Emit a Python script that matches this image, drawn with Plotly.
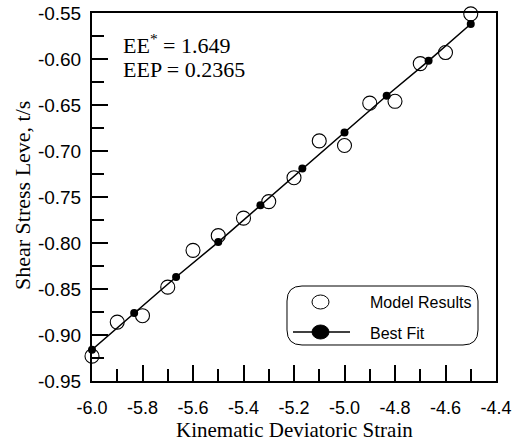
import plotly.graph_objects as go

# Model results (open circles)
model_x = [-6.0, -5.9, -5.8, -5.7, -5.6, -5.5, -5.4, -5.3,
           -5.2, -5.1, -5.0, -4.9, -4.8, -4.7, -4.6, -4.5]
model_y = [-0.923, -0.886, -0.879, -0.848, -0.808, -0.792, -0.773, -0.755,
           -0.729, -0.689, -0.694, -0.648, -0.646, -0.605, -0.593, -0.551]

# Best-fit line (filled markers)
fit_x = [-6.0, -5.833, -5.667, -5.5, -5.333, -5.167, -5.0, -4.833, -4.667, -4.5]
fit_y = [-0.916, -0.876, -0.837, -0.799, -0.759, -0.719, -0.680, -0.640, -0.602, -0.562]

# Axis ticks
x_tick_vals = [-6.0, -5.8, -5.6, -5.4, -5.2, -5.0, -4.8, -4.6, -4.4]
x_tick_text = ["-6.0", "-5.8", "-5.6", "-5.4", "-5.2", "-5.0", "-4.8", "-4.6", "-4.4"]
x_minor_vals = [-5.9, -5.7, -5.5, -5.3, -5.1, -4.9, -4.7, -4.5]
y_tick_vals = [-0.95, -0.90, -0.85, -0.80, -0.75, -0.70, -0.65, -0.60, -0.55]
y_tick_text = ["-0.95", "-0.90", "-0.85", "-0.80", "-0.75", "-0.70", "-0.65", "-0.60", "-0.55"]
y_minor_vals = [-0.925, -0.875, -0.825, -0.775, -0.725, -0.675, -0.625, -0.575]

stats_lines = ["EE<sup>*</sup> = 1.649", "EEP = 0.2365"]
legend_names = ["Model Results", "Best Fit"]

W, H = 518, 443
L, R, T, B = 92, 22, 13, 62
PW, PH = W - L - R, H - T - B

SANS = "Liberation Sans, Arial, sans-serif"
SERIF = "Liberation Serif, Times New Roman, serif"


def px(xp):
    return (xp - L) / PW


def py(yp):
    return (H - B - yp) / PH


fig = go.Figure()

fig.add_trace(go.Scatter(
    x=model_x, y=model_y, mode="markers", name=legend_names[0],
    marker=dict(symbol="circle-open", size=14, color="black", line=dict(width=1.1)),
    cliponaxis=False,
))
fig.add_trace(go.Scatter(
    x=fit_x, y=fit_y, mode="lines+markers", name=legend_names[1],
    line=dict(color="black", width=1.5),
    marker=dict(symbol="circle", size=8, color="black"),
    cliponaxis=False,
))

axis_common = dict(
    showgrid=False, zeroline=False, showline=True, mirror=True,
    linecolor="black", linewidth=2,
    ticks="inside", tickcolor="black", tickwidth=1.5, ticklen=16,
)

fig.update_xaxes(
    range=[-6.0, -4.4], tickvals=x_tick_vals, ticktext=x_tick_text,
    ticklabelstandoff=9,
    tickfont=dict(family=SANS, size=18, color="black"),
    minor=dict(tickvals=x_minor_vals, ticks="inside", ticklen=12,
               tickwidth=1.5, tickcolor="black"),
    **axis_common,
)
fig.update_yaxes(
    range=[-0.95, -0.55], tickvals=y_tick_vals, ticktext=y_tick_text,
    ticklabelstandoff=5,
    tickfont=dict(family=SANS, size=19, color="black"),
    minor=dict(tickvals=y_minor_vals, ticks="inside", ticklen=12,
               tickwidth=1.5, tickcolor="black"),
    **axis_common,
)

annotations = [
    dict(text="Kinematic Deviatoric Strain", x=0.5, y=py(430.5), xref="paper", yref="paper",
         xanchor="center", yanchor="middle", showarrow=False,
         font=dict(family=SERIF, size=21, color="black")),
    dict(text="Shear Stress Leve, t/s", x=px(22), y=py(196), xref="paper", yref="paper",
         xanchor="center", yanchor="middle", textangle=-90, showarrow=False,
         font=dict(family=SERIF, size=22, color="black")),
    dict(text=stats_lines[0], x=px(121), y=py(44), xref="paper", yref="paper",
         xanchor="left", yanchor="middle", showarrow=False,
         font=dict(family=SERIF, size=22, color="black")),
    dict(text=stats_lines[1], x=px(121), y=py(70), xref="paper", yref="paper",
         xanchor="left", yanchor="middle", showarrow=False,
         font=dict(family=SERIF, size=22, color="black")),
    dict(text=legend_names[0], x=px(368), y=py(302), xref="paper", yref="paper",
         xanchor="left", yanchor="middle", showarrow=False,
         font=dict(family=SANS, size=16, color="black")),
    dict(text=legend_names[1], x=px(368), y=py(333), xref="paper", yref="paper",
         xanchor="left", yanchor="middle", showarrow=False,
         font=dict(family=SANS, size=16, color="black")),
]

# Rounded legend frame
bx0, bx1, by0, by1, r = 287, 478, 286, 345, 15
pts = [
    ("M", bx0 + r, by0), ("L", bx1 - r, by0), ("Q", bx1, by0, bx1, by0 + r),
    ("L", bx1, by1 - r), ("Q", bx1, by1, bx1 - r, by1),
    ("L", bx0 + r, by1), ("Q", bx0, by1, bx0, by1 - r),
    ("L", bx0, by0 + r), ("Q", bx0, by0, bx0 + r, by0),
]
path = ""
for p in pts:
    cmd, coords = p[0], p[1:]
    xy = []
    for i in range(0, len(coords), 2):
        xy.append(f"{px(coords[i]):.5f},{py(coords[i + 1]):.5f}")
    path += cmd + " " + " ".join(xy) + " "
path += "Z"

shapes = [
    dict(type="path", path=path, xref="paper", yref="paper",
         line=dict(color="black", width=1), fillcolor="white", layer="above"),
    dict(type="circle", xref="paper", yref="paper",
         x0=px(312), x1=px(329), y0=py(295), y1=py(309),
         line=dict(color="black", width=1), layer="above"),
    dict(type="line", xref="paper", yref="paper",
         x0=px(293), x1=px(350), y0=py(332), y1=py(332),
         line=dict(color="black", width=1.5), layer="above"),
    dict(type="circle", xref="paper", yref="paper",
         x0=px(312), x1=px(329), y0=py(325), y1=py(339),
         line=dict(color="black", width=1), fillcolor="black", layer="above"),
]

fig.update_layout(
    width=W, height=H,
    margin=dict(l=L, r=R, t=T, b=B, autoexpand=False),
    paper_bgcolor="white", plot_bgcolor="white",
    showlegend=False,
    annotations=annotations, shapes=shapes,
)

fig.write_html("out.html")
